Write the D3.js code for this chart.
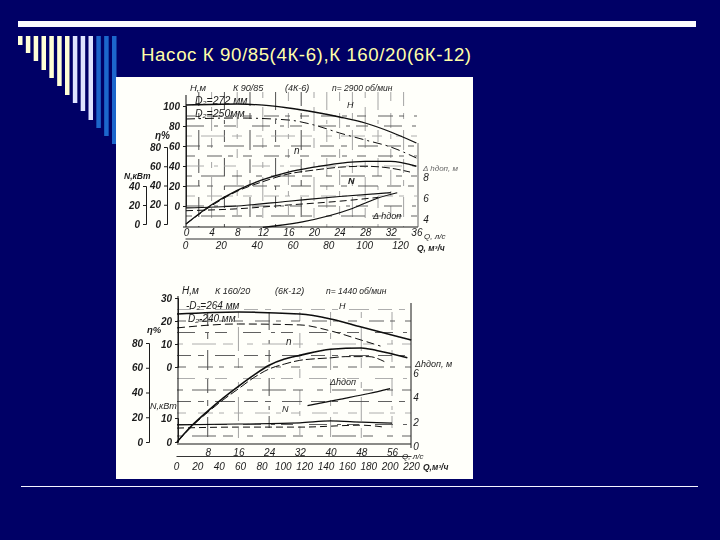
<!DOCTYPE html>
<html><head><meta charset="utf-8">
<script src="https://cdn.jsdelivr.net/npm/d3@7/dist/d3.min.js"></script>
<style>html,body{margin:0;padding:0;background:#000066}svg{display:block}</style>
</head><body><svg id="c" width="720" height="540"></svg>
<script>
// ---- text
const titleText = "Насос К 90/85(4К-6),К 160/20(6К-12)";

// ---- upper chart: К 90/85
const qA = [0,4,8,12,16,20,24,28,32,36];
const hA1 = [[0,101],[8,102],[16,98],[20,94],[24,89],[28,83],[32,74],[36,63]];
const hA2 = [[0,87],[8,88],[16,86],[20,81],[24,73],[28,66],[32,59],[36,48]];
const etaA1 = [[0,0],[4,20],[8,35],[12,46],[16,54],[20,59],[24,63],[28,65],[32,65],[36,60]];
const etaA2 = [[0,0],[4,19],[8,34],[12,44],[16,52],[20,56],[24,59],[28,60],[32,58],[35,54]];
const nA1 = [[0,17],[8,19],[16,24],[24,29],[32,33]];
const nA2 = [[0,14],[8,16],[16,20],[24,24],[30,28]];
const dhA = [[12,3.3],[18,3.8],[26,5.1],[30,6.1],[33,6.6]];
const qFlowA = [0,20,40,60,80,100,120];
const hTicksA = [0,20,40,60,80,100];
const etaTicksA = [0,20,40,60,80];
const nTicksA = [0,20,40];
const dhTicksA = [4,6,8];

// ---- lower chart: К 160/20
const qB = [8,16,24,32,40,48,56];
const hB1 = [[0,23],[16,23.9],[32,23],[40,20.9],[48,17.4],[61,11.7]];
const hB2 = [[0,17],[16,18.7],[32,18.3],[40,15.7],[48,11.7],[53,9.1]];
const etaB1 = [[0,0],[4,13.7],[8,25],[12,35.5],[16,45],[20,54],[24,62],[28,67],[32,70],[40,75],[48,76],[52,74],[60,68]];
const etaB2 = [[0,0],[4,13],[8,24],[12,34],[16,43],[20,52],[24,59],[28,63],[32,66],[40,68],[44,69],[50,69],[54,65]];
const nB1 = [[0,7.1],[16,7.5],[32,8],[40,8.8],[48,8.3],[56,7.9]];
const nB2 = [[0,5.8],[16,6.2],[32,6.2],[48,7],[54,6.2]];
const dhB = [[34,3.4],[42,3.9],[50,4.4],[55.5,4.8]];
const qFlowB = [0,20,40,60,80,100,120,140,160,180,200,220];
const hTicksB = [0,10,20,30];
const etaTicksB = [0,20,40,60,80];
const nTicksB = [0,10];
const dhTicksB = [0,2,4,6];

// ---- slide decoration: depth of each stripe, top-left
const stripeDepth = [9,17,25,34,42,50,59,67,75,84,92,100,108];

const svg = d3.select("#c");
const ink = "#1c1c1c";
const serif = "'Liberation Sans',Arial,sans-serif";

svg.append("rect").attr("width",720).attr("height",540).attr("fill","#000066");
const defs = svg.append("defs");
defs.append("filter").attr("id","soft").append("feGaussianBlur").attr("stdDeviation",0.35);

// slide furniture
svg.append("rect").attr("x",18).attr("y",21).attr("width",678).attr("height",6).attr("fill","#fbfbff");
const sx = d3.scaleLinear().domain([0,12]).range([18,112]);
svg.selectAll("rect.st").data(stripeDepth).join("rect").attr("class","st")
  .attr("x",(d,i)=>sx(i)).attr("y",36).attr("width",4.5).attr("height",d=>d)
  .attr("fill",(d,i)=>i<7?"#ffffd6":i<10?"#dfe4ff":"#1c66cc");
svg.append("text").attr("x",141).attr("y",61).attr("font-family",serif).attr("font-size",18.7)
  .attr("letter-spacing",0.57).attr("fill","#ffffa8").text(titleText);
svg.append("rect").attr("x",116).attr("y",77).attr("width",357).attr("height",402).attr("fill","#fffffa");
svg.append("line").attr("x1",21).attr("x2",698).attr("y1",486.5).attr("y2",486.5).attr("stroke","#f4f4ff").attr("stroke-width",1);

const g = svg.append("g").attr("filter","url(#soft)");
const line = (xs,ys)=>d3.line().x(d=>xs(d[0])).y(d=>ys(d[1])).curve(d3.curveMonotoneX);

function label(x,y,t,size,anchor,opts){
  opts = opts||{};
  return g.append("text").attr("x",x).attr("y",y).attr("font-family",serif)
    .attr("font-size",size||10).attr("font-style","italic").attr("font-weight",opts.w||"normal")
    .attr("text-anchor",anchor||"start").attr("fill",opts.c||ink).text(t);
}
function drawAxis(x,scale,ticks,fs){
  const a = g.append("g").attr("transform",`translate(${x},0)`)
    .call(d3.axisLeft(scale).tickValues(ticks).tickSize(3).tickFormat(d3.format("d")));
  a.selectAll("path,line").attr("stroke",ink).attr("stroke-width",1);
  a.selectAll("text").attr("font-family",serif).attr("font-style","italic").attr("font-weight","bold")
    .attr("font-size",fs||10).attr("fill",ink);
  return a;
}
function curve(data,xs,ys,w,dash){
  const p = g.append("path").datum(data).attr("fill","none").attr("stroke","#0c0c0c")
    .attr("stroke-width",w).attr("d",line(xs,ys));
  if(dash) p.attr("stroke-dasharray",dash);
}
function grid(xs,ys,qVals,hVals,x0,x1,y0,y1){
  const pats = ["14 7 6 11 20 9","6 9 24 7 10 14","18 10 4 6 12 16","9 12 15 6 5 10"];
  const mid = (x0+x1)/2;
  g.append("g").selectAll("line").data(qVals).join("line")
    .attr("x1",d=>xs(d)).attr("x2",d=>xs(d)).attr("y1",y0).attr("y2",y1)
    .attr("stroke",(d,i)=>xs(d)<mid&&i%2===0?"#3a3a3a":"#9a9a9a").attr("stroke-width",0.9)
    .attr("stroke-dasharray",(d,i)=>pats[i%4]);
  g.append("g").selectAll("line").data(hVals).join("line")
    .attr("x1",x0).attr("x2",x1).attr("y1",d=>ys(d)).attr("y2",d=>ys(d))
    .attr("stroke",(d,i)=>i%3===2?"#a5a5a5":"#505050").attr("stroke-width",0.9)
    .attr("stroke-dasharray",(d,i)=>pats[(i+1)%4]);
}
function flowAxis(scale,ticks,y,pad,showDomain){
  const a = g.append("g").attr("transform",`translate(0,${y})`)
    .call(d3.axisBottom(scale).tickValues(ticks).tickSize(0).tickSizeOuter(0).tickPadding(pad).tickFormat(d3.format("d")));
  a.selectAll("path").attr("stroke",showDomain?ink:"none").attr("stroke-width",0.9);
  a.selectAll("text").attr("font-family",serif).attr("font-style","italic").attr("font-size",10).attr("fill",ink);
}

// ===== upper chart
{
  const x = d3.scaleLinear().domain([0,36]).range([186,416.4]);
  const xF = d3.scaleLinear().domain([0,120]).range([185,400]);
  const yH = d3.scaleLinear().domain([0,100]).range([206,106]);
  const yE = d3.scaleLinear().domain([0,80]).range([224,147]);
  const yN = d3.scaleLinear().domain([0,40]).range([224,186]);
  const yD = d3.scaleLinear().domain([4,8]).range([220,178]);

  grid(x,yH,d3.range(2,36,2),d3.range(-10,100,10),186,417,92,227);
  g.append("line").attr("x1",183).attr("x2",418).attr("y1",227).attr("y2",227).attr("stroke",ink);
  g.append("line").attr("x1",186).attr("x2",186).attr("y1",95).attr("y2",227).attr("stroke",ink).attr("stroke-width",1.1);
  g.append("line").attr("x1",418).attr("x2",418).attr("y1",143).attr("y2",227).attr("stroke","#555").attr("stroke-width",0.9);

  drawAxis(186,yH,hTicksA);
  drawAxis(167,yE,etaTicksA);
  drawAxis(146,yN,nTicksA);
  [[hA1,yH,1.3,null],[hA2,yH,1,"9 4 2 4"],[etaA1,yE,1.3,null],[etaA2,yE,1,"8 3"],
   [nA1,yN,1.1,null],[nA2,yN,1,"7 4"],[dhA,yD,1.2,null]].forEach(c=>curve(c[0],x,c[1],c[2],c[3]));

  dhTicksA.forEach(d=>label(426,yD(d)+3,d,10,"middle"));
  flowAxis(x,qA,226,3,false);
  flowAxis(xF,qFlowA,238.5,3,true);

  label(190,91,"Н,м",9.5); label(233,91,"К 90/85",9); label(285,91,"(4К-6)",9);
  label(332,91,"n= 2900 об/мин",8.5);
  label(195,104,"D₂=272 мм",10.5); label(195,117,"D₂=250мм",10.5);
  label(155,139,"η%",10,"start",{w:"bold"}); label(124,179,"N,кВт",8.5,"start",{w:"bold"});
  label(347,108,"Н",9); label(294,154,"n",10); label(348,184,"N",9,"start",{w:"bold"});
  label(373,219,"Δ hдоп",9); label(423,171,"Δ hдоп, м",8,"start",{c:"#666"});
  label(424,239,"Q, л/с",8); label(417,251,"Q, м³/ч",8.5,"start",{w:"bold"});
}

// ===== lower chart
{
  const x = d3.scaleLinear().domain([0,56]).range([177,392]);
  const xF = d3.scaleLinear().domain([0,220]).range([176,411]);
  const yH = d3.scaleLinear().domain([0,30]).range([367,298]);
  const yE = d3.scaleLinear().domain([0,80]).range([442,343]);
  const yN = d3.scaleLinear().domain([0,10]).range([442,418]);
  const yD = d3.scaleLinear().domain([0,6]).range([447,374]);

  grid(x,yH,d3.range(8,60,8),d3.range(-30,30,5),177,411,312,444);
  g.append("line").attr("x1",177).attr("x2",411).attr("y1",444).attr("y2",444).attr("stroke",ink);
  g.append("line").attr("x1",178).attr("x2",178).attr("y1",296).attr("y2",442).attr("stroke",ink).attr("stroke-width",1.1);
  g.append("line").attr("x1",411).attr("x2",411).attr("y1",303).attr("y2",448).attr("stroke",ink).attr("stroke-width",1);

  drawAxis(178,yH,hTicksB);
  drawAxis(149,yE,etaTicksB);
  drawAxis(178,yN,nTicksB,10);
  [[hB1,yH,1.5,null],[hB2,yH,1,"8 4"],[etaB1,yE,1.6,null],[etaB2,yE,1,"9 3"],
   [nB1,yN,1.2,null],[nB2,yN,1,"7 4"],[dhB,yD,1.2,null]].forEach(c=>curve(c[0],x,c[1],c[2],c[3]));

  dhTicksB.forEach(d=>label(416,yD(d)+3,d,10,"middle"));
  flowAxis(x,qB,446,3,false);
  flowAxis(xF,qFlowB,456,6.5,true);

  label(182,294,"Н,м",10); label(215,294,"К 160/20",9); label(275,294,"(6К-12)",9);
  label(326,294,"n= 1440 об/мин",8.5);
  label(186,309,"-D₂=264 мм",10); label(188,322,"D₂-240 мм",10);
  label(147,333,"η%",9.5,"start",{w:"bold"}); label(150,409,"N,кВт",9);
  label(339,309,"Н",9); label(286,345,"n",10); label(282,412,"N",9);
  label(330,385,"Δhдоп",9); label(415,367,"Δhдоп, м",9);
  label(402,459,"Q, л/с",8); label(423,470,"Q,м³/ч",8.5,"start",{w:"bold"});
}
</script></body></html>
